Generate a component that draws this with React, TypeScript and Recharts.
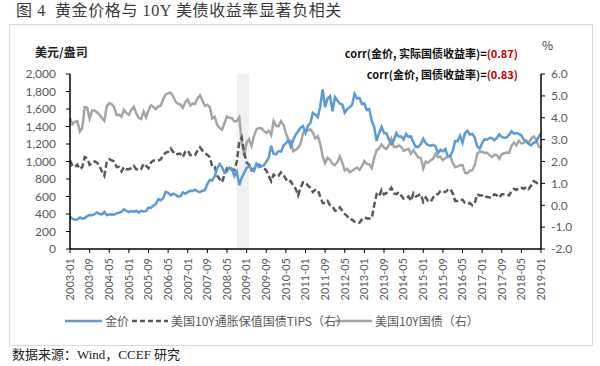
import React from 'react';
import { LineChart, Line, XAxis, YAxis, ReferenceArea } from 'recharts';

// month-end values, 2003-01 .. 2019-01
const goldPrice = [
  368, 347, 334, 337, 361, 346, 354, 375, 388, 386, 398, 417,
  400, 396, 424, 388, 394, 396, 391, 408, 416, 425, 453, 435,
  422, 434, 427, 435, 418, 437, 429, 433, 473, 470, 496, 513,
  569, 556, 582, 654, 643, 613, 633, 623, 599, 604, 646, 632,
  650, 665, 662, 678, 659, 650, 666, 672, 743, 790, 783, 834,
  923, 971, 933, 871, 885, 930, 918, 833, 884, 730, 815, 870,
  928, 942, 917, 891, 975, 935, 949, 955, 996, 1040, 1180, 1088,
  1081, 1119, 1113, 1180, 1208, 1245, 1169, 1246, 1307, 1346, 1386, 1405,
  1327, 1411, 1439, 1556, 1536, 1506, 1628, 1825, 1620, 1722, 1746, 1574,
  1738, 1697, 1662, 1651, 1558, 1598, 1622, 1648, 1776, 1720, 1726, 1657,
  1664, 1588, 1598, 1467, 1394, 1235, 1323, 1396, 1326, 1324, 1253, 1202,
  1240, 1326, 1284, 1288, 1250, 1315, 1282, 1286, 1217, 1164, 1168, 1199,
  1260, 1213, 1187, 1180, 1191, 1172, 1095, 1135, 1115, 1142, 1061, 1060,
  1118, 1234, 1233, 1293, 1215, 1322, 1351, 1309, 1316, 1273, 1173, 1146,
  1210, 1255, 1249, 1268, 1268, 1242, 1269, 1312, 1280, 1271, 1275, 1303,
  1345, 1318, 1325, 1315, 1299, 1250, 1224, 1201, 1187, 1215, 1222, 1282,
  1321,
];

const tipsYield = [
  2.05, 1.80, 1.75, 1.85, 1.65, 1.75, 2.20, 2.15, 1.85, 1.90, 2.00, 1.95,
  1.80, 1.55, 1.35, 2.00, 2.10, 2.05, 2.00, 1.75, 1.75, 1.55, 1.75, 1.65,
  1.65, 1.70, 1.80, 1.65, 1.60, 1.65, 1.90, 1.80, 1.70, 1.95, 2.05, 2.05,
  2.05, 2.10, 2.30, 2.40, 2.45, 2.60, 2.45, 2.30, 2.35, 2.35, 2.20, 2.45,
  2.50, 2.30, 2.25, 2.30, 2.50, 2.65, 2.50, 2.40, 2.30, 2.20, 1.75, 1.75,
  1.35, 1.20, 1.05, 1.40, 1.70, 1.65, 1.65, 1.60, 2.00, 2.90, 3.10, 2.40,
  1.95, 1.85, 1.60, 1.65, 1.85, 1.85, 1.75, 1.70, 1.60, 1.35, 1.10, 1.40,
  1.30, 1.35, 1.50, 1.40, 1.20, 1.05, 1.10, 0.90, 0.75, 0.45, 0.80, 1.05,
  1.05, 0.90, 0.80, 0.60, 0.70, 0.70, 0.40, 0.10, 0.10, 0.20, 0.00, -0.05,
  -0.25, -0.25, -0.10, -0.25, -0.40, -0.50, -0.65, -0.65, -0.75, -0.75, -0.80, -0.65,
  -0.55, -0.60, -0.60, -0.60, 0.00, 0.50, 0.40, 0.70, 0.50, 0.55, 0.65, 0.80,
  0.55, 0.50, 0.60, 0.45, 0.30, 0.30, 0.40, 0.20, 0.55, 0.40, 0.45, 0.50,
  0.15, 0.35, 0.20, 0.15, 0.35, 0.50, 0.50, 0.65, 0.65, 0.60, 0.70, 0.75,
  0.55, 0.20, 0.20, 0.25, 0.25, 0.10, 0.05, 0.10, 0.00, 0.10, 0.50, 0.45,
  0.45, 0.35, 0.40, 0.35, 0.35, 0.50, 0.45, 0.35, 0.50, 0.50, 0.50, 0.45,
  0.65, 0.75, 0.70, 0.80, 0.80, 0.75, 0.85, 0.75, 0.90, 1.10, 1.05, 0.95,
  0.90,
];

const ust10y = [
  3.98, 3.70, 3.81, 3.85, 3.37, 3.54, 4.49, 4.47, 3.96, 4.33, 4.33, 4.25,
  4.14, 3.99, 3.86, 4.53, 4.66, 4.62, 4.48, 4.13, 4.14, 4.05, 4.36, 4.22,
  4.14, 4.36, 4.50, 4.21, 4.00, 3.94, 4.28, 4.02, 4.34, 4.57, 4.49, 4.39,
  4.53, 4.55, 4.86, 5.07, 5.12, 5.15, 4.99, 4.74, 4.64, 4.61, 4.46, 4.71,
  4.83, 4.56, 4.65, 4.63, 4.90, 5.03, 4.78, 4.54, 4.59, 4.48, 3.97, 4.04,
  3.67, 3.53, 3.45, 3.77, 4.06, 3.99, 3.99, 3.83, 3.85, 4.01, 2.93, 2.25,
  2.87, 3.02, 2.71, 3.16, 3.47, 3.53, 3.52, 3.40, 3.31, 3.41, 3.21, 3.85,
  3.63, 3.61, 3.84, 3.69, 3.31, 2.97, 2.94, 2.47, 2.53, 2.63, 2.81, 3.30,
  3.42, 3.42, 3.47, 3.32, 3.06, 3.16, 2.82, 2.23, 1.92, 2.17, 2.08, 1.89,
  1.83, 1.98, 2.23, 1.95, 1.59, 1.67, 1.51, 1.57, 1.65, 1.72, 1.62, 1.78,
  2.02, 1.89, 1.87, 1.70, 2.16, 2.52, 2.60, 2.78, 2.64, 2.57, 2.75, 3.04,
  2.67, 2.66, 2.73, 2.67, 2.48, 2.53, 2.58, 2.35, 2.52, 2.35, 2.18, 2.17,
  1.68, 2.00, 1.94, 2.05, 2.12, 2.35, 2.20, 2.22, 2.06, 2.16, 2.21, 2.27,
  1.94, 1.74, 1.78, 1.83, 1.84, 1.49, 1.46, 1.58, 1.60, 1.84, 2.37, 2.45,
  2.45, 2.39, 2.40, 2.29, 2.21, 2.31, 2.30, 2.12, 2.33, 2.38, 2.41, 2.40,
  2.72, 2.87, 2.74, 2.95, 2.83, 2.85, 2.96, 2.86, 3.05, 3.14, 3.01, 2.69,
  2.63,
];

const startYear = 2003;
const months = goldPrice.map((_, i) => {
  const y = startYear + Math.floor(i / 12);
  const m = (i % 12) + 1;
  return `${y}-${m < 10 ? '0' + m : m}`;
});

const leftTicks = [0, 200, 400, 600, 800, 1000, 1200, 1400, 1600, 1800, 2000];
const rightTicks = [-2, -1, 0, 1, 2, 3, 4, 5, 6];

const crisisStart = '2008-09';
const crisisEnd = '2009-02';

const data = months.map((m, i) => ({
  m,
  gold: goldPrice[i],
  tips: tipsYield[i],
  ust: ust10y[i],
}));

const BLUE = '#5b9bd5';
const DARK = '#595959';
const GRAY = '#a5a5a5';
const TICK_FONT = "Lato, 'Noto Sans', sans-serif";
const CJK = "'Noto Sans CJK SC', sans-serif";

function MonthTick(props: any) {
  const { x, y, payload } = props;
  return (
    <text
      x={x}
      y={y}
      transform={`rotate(-90 ${x} ${y})`}
      textAnchor="end"
      dy="0.35em"
      fill={DARK}
      fontSize={11}
      fontFamily={TICK_FONT}
    >
      {payload.value}
    </text>
  );
}

const abs = (s: React.CSSProperties): React.CSSProperties => ({ position: 'absolute', whiteSpace: 'pre', ...s });

export default function App() {
  return (
    <div style={{ position: 'absolute', left: 0, top: 0, width: 600, height: 366, background: '#fff', overflow: 'hidden' }}>
      <div style={abs({ left: 16, top: 1, fontSize: 16, lineHeight: '20px', color: '#3a3a3a', fontFamily: "'Liberation Serif', 'Noto Sans CJK SC', serif", letterSpacing: 0.6 })}>
        图 4  黄金价格与 10Y 美债收益率显著负相关
      </div>
      <div style={abs({ left: 9, top: 24, width: 582, height: 320, border: '1px solid #d9d9d9' })} />

      <div style={abs({ left: 0, top: 0 })}>
        <LineChart width={600} height={366} data={data} margin={{ top: 74, right: 20, bottom: 67, left: 20 }}>
          <XAxis
            dataKey="m"
            interval={7}
            tick={<MonthTick />}
            tickSize={4}
            tickMargin={5}
            height={50}
            axisLine={{ stroke: '#000', strokeWidth: 1.5 }}
            tickLine={{ stroke: '#000' }}
          />
          <YAxis
            yAxisId="left"
            domain={[0, 2000]}
            ticks={leftTicks}
            interval={0}
            width={50}
            tickSize={4}
            tickMargin={10}
            tickFormatter={(v: number) => v.toLocaleString('en-US')}
            tick={{ fill: DARK, fontSize: 12, fontFamily: TICK_FONT }}
            axisLine={{ stroke: '#000', strokeWidth: 1.5 }}
            tickLine={{ stroke: '#000' }}
          />
          <YAxis
            yAxisId="right"
            orientation="right"
            domain={[-2, 6]}
            ticks={rightTicks}
            interval={0}
            width={39}
            tickSize={4}
            tickMargin={6}
            tickFormatter={(v: number) => v.toFixed(1)}
            tick={{ fill: DARK, fontSize: 12, fontFamily: TICK_FONT, textAnchor: 'start' }}
            axisLine={{ stroke: '#000', strokeWidth: 1.5 }}
            tickLine={{ stroke: '#000' }}
          />
          <ReferenceArea yAxisId="left" x1={crisisStart} x2={crisisEnd} fill="#f0f0f0" fillOpacity={1} stroke="none" />
          <Line yAxisId="right" dataKey="ust" stroke={GRAY} strokeWidth={2.5} dot={false} isAnimationActive={false} />
          <Line yAxisId="right" dataKey="tips" stroke={DARK} strokeWidth={2.5} strokeDasharray="6 3" dot={false} isAnimationActive={false} />
          <Line yAxisId="left" dataKey="gold" stroke={BLUE} strokeWidth={2.5} dot={false} isAnimationActive={false} />
        </LineChart>
      </div>

      <div style={abs({ left: 35, top: 43, fontSize: 12, lineHeight: '18px', fontWeight: 600, color: '#222', fontFamily: CJK })}>美元/盎司</div>
      <div style={abs({ left: 542, top: 37, fontSize: 12, lineHeight: '16px', color: '#404040', fontFamily: CJK })}>%</div>
      <div style={abs({ right: 82, top: 45, fontSize: 11, lineHeight: '16px', fontWeight: 700, color: '#111', fontFamily: CJK })}>
        corr(金价, 实际国债收益率)=<span style={{ color: '#c00000' }}>(0.87)</span>
      </div>
      <div style={abs({ right: 82, top: 66, fontSize: 11, lineHeight: '16px', fontWeight: 700, color: '#111', fontFamily: CJK })}>
        corr(金价, 国债收益率)=<span style={{ color: '#c00000' }}>(0.83)</span>
      </div>

      <svg style={{ position: 'absolute', left: 0, top: 312 }} width={600} height={20}>
        <line x1={65} x2={102} y1={9} y2={9} stroke={BLUE} strokeWidth={2.5} />
        <line x1={132} x2={168} y1={9} y2={9} stroke={DARK} strokeWidth={2.5} strokeDasharray="5 3" />
        <line x1={335} x2={372} y1={9} y2={9} stroke={GRAY} strokeWidth={2.5} />
      </svg>
      <div style={abs({ left: 105, top: 312, fontSize: 12, lineHeight: '18px', color: DARK, fontFamily: CJK })}>金价</div>
      <div style={abs({ left: 171, top: 312, fontSize: 12, lineHeight: '18px', color: DARK, fontFamily: CJK })}>美国10Y通胀保值国债TIPS（右）</div>
      <div style={abs({ left: 375, top: 312, fontSize: 12, lineHeight: '18px', color: DARK, fontFamily: CJK })}>美国10Y国债（右）</div>

      <div style={abs({ left: 12, top: 346, fontSize: 13, lineHeight: '18px', color: '#222', fontFamily: "'Liberation Serif', 'Noto Sans CJK SC', serif" })}>
        数据来源：Wind，CCEF 研究
      </div>
    </div>
  );
}
